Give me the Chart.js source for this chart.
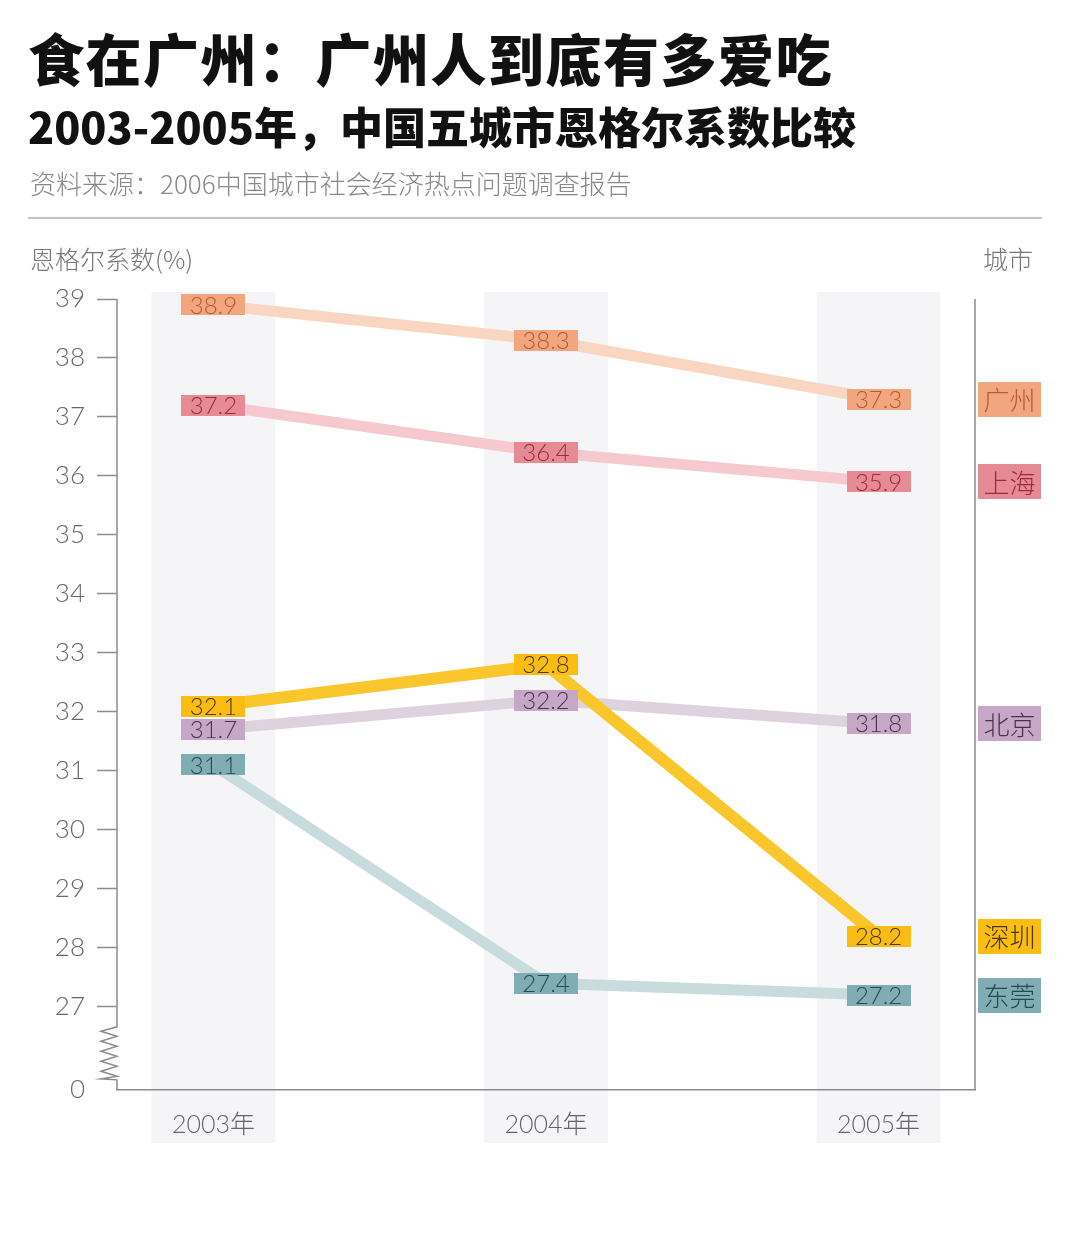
<!DOCTYPE html>
<html>
<head>
<meta charset="utf-8">
<script src="https://cdn.jsdelivr.net/npm/chart.js@4/dist/chart.umd.min.js"></script>
<style>
  html, body { margin: 0; padding: 0; background: #ffffff; }
  #wrap { position: relative; width: 1080px; height: 1248px; overflow: hidden; background: #fff; }
  #c { position: absolute; left: 0; top: 0; }
  .t { position: absolute; white-space: nowrap; font-family: "Noto Sans CJK SC", "Noto Sans", sans-serif; }
  #title { left: 28px; top: 22px; font-size: 56px; font-weight: 900; color: #111; line-height: 70px; letter-spacing: 1.5px; }
  #sub { left: 28px; top: 98px; font-size: 43px; font-weight: 900; color: #111; line-height: 54px; }
  #src { left: 30px; top: 166px; font-size: 26px; font-weight: 300; color: #888; line-height: 34px; }
  #rule { position: absolute; left: 28px; top: 217px; width: 1014px; height: 2px; background: #c4c4c4; }
  #ytitle { left: 30px; top: 241px; font-size: 25px; font-weight: 300; color: #777; line-height: 34px; }
  #rtitle { right: 47px; top: 241px; font-size: 25px; font-weight: 300; color: #777; line-height: 34px; }
</style>
</head>
<body>
<div id="wrap">
  <canvas id="c" width="1080" height="1248"></canvas>
  <div class="t" id="title">食在广州：广州人到底有多爱吃</div>
  <div class="t" id="sub">2003-2005年，中国五城市恩格尔系数比较</div>
  <div class="t" id="src">资料来源：2006中国城市社会经济热点问题调查报告</div>
  <div id="rule"></div>
  <div class="t" id="ytitle">恩格尔系数(%)</div>
  <div class="t" id="rtitle">城市</div>
</div>
<script>
// ---- data ----
const years = [2003, 2004, 2005];
const cities = ["深圳", "广州", "上海", "北京", "东莞"];
const shenzhen  = [32.1, 32.8, 28.2];
const guangzhou = [38.9, 38.3, 37.3];
const shanghai  = [37.2, 36.4, 35.9];
const beijing   = [31.7, 32.2, 31.8];
const dongguan  = [31.1, 27.4, 27.2];
const yTicks = [27, 28, 29, 30, 31, 32, 33, 34, 35, 36, 37, 38, 39];
const yBaseLabel = "0";
const yearSuffix = "年";

// ---- styles ----
const lineColors = ["#f9c62c", "#f8d6c2", "#f6c9ce", "#dfd2df", "#c8dcdd"];
const boxColors  = ["#fbbd14", "#f1a67e", "#e68b96", "#c6a7c5", "#80adb4"];
const textColors = ["#4a3a10", "#b55a36", "#9c2a3a", "#4d3050", "#1f4b55"];
const lineWidths = [12, 11, 11, 11, 11];
const seriesValues = [shenzhen, guangzhou, shanghai, beijing, dongguan];

const Y_MIN = 25.59, Y_MAX = 39;
const NUM_FONT = "Lato, 'Open Sans', sans-serif";
const CJK_FONT = "'Noto Sans CJK SC', sans-serif";

const datasets = cities.map((name, i) => ({
  label: name,
  data: years.map((yr, j) => ({ x: yr, y: seriesValues[i][j] })),
  borderColor: lineColors[i],
  backgroundColor: lineColors[i],
  borderWidth: lineWidths[i],
  pointRadius: 0,
  tension: 0,
  borderCapStyle: "butt",
  borderJoinStyle: "round",
  clip: false,
  order: i
}));

const bandPlugin = {
  id: "bands",
  beforeDraw(chart) {
    const { ctx, chartArea, scales } = chart;
    ctx.save();
    ctx.fillStyle = "#f5f5f7";
    years.forEach(yr => {
      const cx = scales.x.getPixelForValue(yr);
      ctx.fillRect(cx - 62, chartArea.top - 7, 124, chartArea.bottom - chartArea.top + 60);
    });
    ctx.restore();
  }
};

const axisPlugin = {
  id: "axes",
  afterDraw(chart) {
    const { ctx, chartArea, scales } = chart;
    const x0 = chartArea.left, bottom = chartArea.bottom, top = chartArea.top;
    const y27 = scales.y.getPixelForValue(yTicks[0]);
    ctx.save();
    ctx.strokeStyle = "#8c8c8c";
    ctx.lineWidth = 1.5;
    ctx.beginPath();
    ctx.moveTo(x0, top);
    ctx.lineTo(x0, y27 + 20);
    let y = y27 + 20;
    for (let k = 0; k < 5; k++) {
      ctx.lineTo(x0 - 16, y + 4.5);
      ctx.lineTo(x0, y + 9.5);
      y += 10;
    }
    ctx.lineTo(x0 - 16, y + 2);
    ctx.lineTo(x0, y + 3);
    ctx.lineTo(x0, bottom);
    ctx.stroke();
    ctx.beginPath();
    ctx.moveTo(chartArea.right, top);
    ctx.lineTo(chartArea.right, bottom);
    ctx.stroke();
    ctx.restore();
  }
};

const labelPlugin = {
  id: "valueLabels",
  afterDatasetsDraw(chart) {
    const { ctx, chartArea } = chart;
    ctx.save();
    ctx.textAlign = "center";
    ctx.textBaseline = "middle";
    for (let i = chart.data.datasets.length - 1; i >= 0; i--) {
      const meta = chart.getDatasetMeta(i);
      meta.data.forEach((pt, j) => {
        const w = 64, h = 21;
        ctx.fillStyle = boxColors[i];
        ctx.fillRect(Math.round(pt.x - w / 2), Math.round(pt.y - h / 2), w, h);
        ctx.fillStyle = textColors[i];
        ctx.font = "300 24px " + NUM_FONT;
        ctx.fillText(seriesValues[i][j].toFixed(1), pt.x, pt.y + 1);
      });
      const last = meta.data[meta.data.length - 1];
      const bx = chartArea.right + 3, bw = 63, bh = 35;
      ctx.fillStyle = boxColors[i];
      ctx.fillRect(bx, Math.round(last.y - bh / 2), bw, bh);
      ctx.fillStyle = textColors[i];
      ctx.font = "300 26px " + CJK_FONT;
      ctx.fillText(cities[i], bx + bw / 2, last.y + 1);
    }
    ctx.restore();
  }
};

new Chart(document.getElementById("c"), {
  type: "line",
  data: { datasets },
  options: {
    responsive: false,
    animation: false,
    events: [],
    layout: { padding: { left: 0, top: 299, right: 105, bottom: 98 } },
    plugins: { legend: { display: false }, tooltip: { enabled: false }, title: { display: false } },
    scales: {
      x: {
        type: "linear",
        min: 2002.71,
        max: 2005.29,
        afterBuildTicks(scale) { scale.ticks = years.map(v => ({ value: v })); },
        afterFit(scale) { scale.height = 60; },
        ticks: {
          padding: 20,
          color: "#666",
          font: { family: NUM_FONT + ", " + CJK_FONT, size: 25, weight: "300" },
          callback: v => v + yearSuffix,
          maxRotation: 0,
          autoSkip: false
        },
        grid: { display: true, drawOnChartArea: false, drawTicks: false },
        border: { display: true, color: "#8c8c8c", width: 1.5 }
      },
      y: {
        type: "linear",
        min: Y_MIN,
        max: Y_MAX,
        afterBuildTicks(scale) { scale.ticks = [Y_MIN].concat(yTicks).map(v => ({ value: v })); },
        afterFit(scale) { scale.width = 117; },
        ticks: {
          padding: 12,
          color: "#666",
          font: { family: NUM_FONT, size: 26, weight: "300" },
          callback: v => (v < yTicks[0] - 0.5 ? yBaseLabel : String(v)),
          autoSkip: false
        },
        grid: {
          display: true,
          drawOnChartArea: false,
          drawTicks: true,
          tickLength: 20,
          tickWidth: 1.5,
          tickColor: c => (c.tick && c.tick.value < yTicks[0] - 0.5 ? "rgba(0,0,0,0)" : "#8c8c8c")
        },
        border: { display: false }
      }
    }
  },
  plugins: [bandPlugin, labelPlugin, axisPlugin]
});
</script>
</body>
</html>
